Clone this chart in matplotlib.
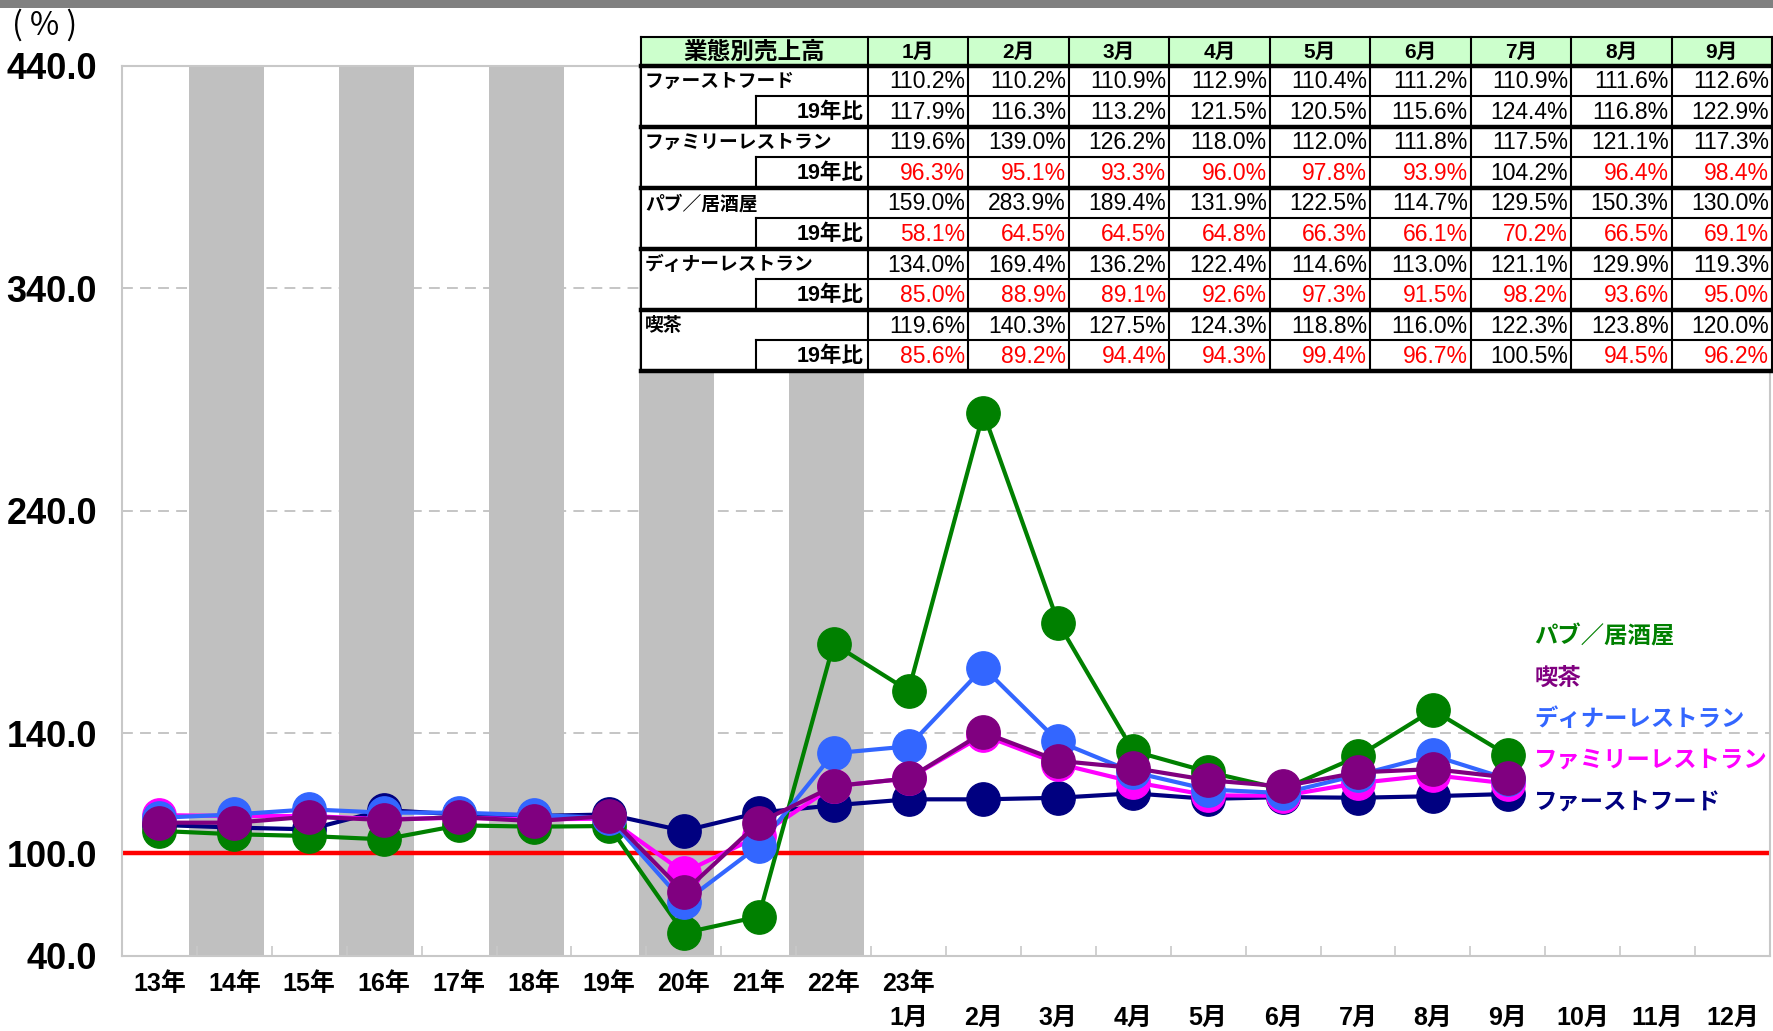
import matplotlib
matplotlib.use("Agg")
import matplotlib.pyplot as plt
from matplotlib import font_manager as fm
from matplotlib.patches import Rectangle
import numpy as np


def pick(names):
    for n in names:
        try:
            fm.findfont(fm.FontProperties(family=n), fallback_to_default=False)
            return n
        except ValueError:
            pass
    return "DejaVu Sans"


NUM = pick(["Liberation Sans Narrow", "Liberation Sans", "DejaVu Sans"])
FAM = [NUM, "Noto Sans CJK JP", "DejaVu Sans"]
plt.rcParams['font.family'] = FAM

# ---- data ----
years = ["13年", "14年", "15年", "16年", "17年", "18年", "19年", "20年", "21年", "22年"]
months = ["1月", "2月", "3月", "4月", "5月", "6月", "7月", "8月", "9月", "10月", "11月", "12月"]
table_months = months[:9]

names = ["ファーストフード", "ファミリーレストラン", "パブ／居酒屋", "ディナーレストラン", "喫茶"]
colors = ["#000080", "#FF00FF", "#008000", "#3366FF", "#800080"]

# yearly values
ff_years = [98.7, 97.5, 96.7, 105.4, 103.4, 102.7, 103.4, 96.0, 104.2, 107.5]
fr_years = [103.1, 102.7, 102.7, 101.2, 101.9, 101.2, 101.5, 77.3, 93.7, 116.1]
pub_years = [96.0, 94.5, 93.7, 92.2, 98.5, 97.9, 98.2, 50.1, 57.5, 180.1]
dr_years = [101.9, 103.4, 105.7, 104.2, 104.2, 103.1, 101.9, 63.9, 89.3, 130.9]
cafe_years = [99.7, 99.7, 102.4, 100.9, 102.2, 100.4, 102.7, 68.4, 99.7, 116.1]

# 2023 monthly values (from the table)
ff_2023 = [110.2, 110.2, 110.9, 112.9, 110.4, 111.2, 110.9, 111.6, 112.6]
fr_2023 = [119.6, 139.0, 126.2, 118.0, 112.0, 111.8, 117.5, 121.1, 117.3]
pub_2023 = [159.0, 283.9, 189.4, 131.9, 122.5, 114.7, 129.5, 150.3, 130.0]
dr_2023 = [134.0, 169.4, 136.2, 122.4, 114.6, 113.0, 121.1, 129.9, 119.3]
cafe_2023 = [119.6, 140.3, 127.5, 124.3, 118.8, 116.0, 122.3, 123.8, 120.0]

ff_vs19 = [117.9, 116.3, 113.2, 121.5, 120.5, 115.6, 124.4, 116.8, 122.9]
fr_vs19 = [96.3, 95.1, 93.3, 96.0, 97.8, 93.9, 104.2, 96.4, 98.4]
pub_vs19 = [58.1, 64.5, 64.5, 64.8, 66.3, 66.1, 70.2, 66.5, 69.1]
dr_vs19 = [85.0, 88.9, 89.1, 92.6, 97.3, 91.5, 98.2, 93.6, 95.0]
cafe_vs19 = [85.6, 89.2, 94.4, 94.3, 99.4, 96.7, 100.5, 94.5, 96.2]

ytick_vals = [40, 86, 140, 240, 340, 440]
ytick_labels = ["40.0", "100.0", "140.0", "240.0", "340.0", "440.0"]
red_line = 86  # where the chart's "100.0" line sits
grid_vals = [140, 240, 340]
shaded = [1, 3, 5, 7, 9]  # 14,16,18,20,22年

year_series = [ff_years, fr_years, pub_years, dr_years, cafe_years]
month_series = [ff_2023, fr_2023, pub_2023, dr_2023, cafe_2023]
vs19_series = [ff_vs19, fr_vs19, pub_vs19, dr_vs19, cafe_vs19]

# ---- figure ----
W, H = 1773, 1031
fig = plt.figure(figsize=(W / 100, H / 100), dpi=100)
fig.patch.set_facecolor("white")

L, R, T, B = 122, 1770, 65.6, 955.5
ax = fig.add_axes([L / W, 1 - B / H, (R - L) / W, (B - T) / H])
n = len(years) + len(months)
x = np.arange(n)
ax.set_xlim(-0.5, n - 0.5)
ax.set_ylim(40, 440)

for v in grid_vals:
    ax.axhline(v, color="#C0C0C0", lw=1.3, ls=(0, (6, 4)), zorder=0)
for i in shaded:
    ax.axvspan(i - 0.6, i + 0.4, color="#C0C0C0", lw=0, zorder=1)
ax.axhline(red_line, color="#FF0000", lw=3.2, zorder=2)

draw_order = [0, 2, 3, 1, 4]
for k in draw_order:
    y = np.array(year_series[k] + month_series[k] + [np.nan] * (len(months) - len(month_series[k])))
    ax.plot(x, y, color=colors[k], lw=3, marker="o", ms=24, zorder=3 + k)

for s in ax.spines.values():
    s.set_color("#C8C8C8")
    s.set_linewidth(1.5)

ax.set_yticks(ytick_vals)
ax.set_yticklabels(ytick_labels, fontsize=26, fontweight="bold")
ax.tick_params(axis="y", length=0, pad=18)
ax.set_xticks(np.arange(n - 1) + 0.5)
ax.set_xticklabels([])
ax.tick_params(axis="x", direction="in", length=7, color="#C8C8C8", width=1.2)

xlab_kw = dict(transform=ax.get_xaxis_transform(), ha="center", va="center",
               fontsize=18, fontweight="bold")
for i, lab in enumerate(years + ["23年"]):
    ax.text(i, -0.0317, lab, **xlab_kw)
for j, lab in enumerate(months):
    ax.text(len(years) + j, -0.0698, lab, **xlab_kw)

# series labels at right
lab_y = [0.3584, 0.3114, 0.2656, 0.2199, 0.1716]
lab_order = [2, 4, 3, 1, 0]
for yy, k in zip(lab_y, lab_order):
    ax.text(0.857, yy, names[k], transform=ax.transAxes, color=colors[k],
            fontsize=16.8, fontweight="bold", va="center", ha="left", zorder=20)

# ---- overlay: top strip, unit label, table ----
ov = fig.add_axes([0, 0, 1, 1], zorder=5)
ov.set_xlim(0, W)
ov.set_ylim(H, 0)
ov.axis("off")
ov.add_patch(Rectangle((0, 0), W, 8, color="#808080", lw=0))
ov.text(12, 25, "( % )", fontsize=23, family=["Noto Sans CJK JP"], va="center", ha="left")

tx0, tsub, tc0, tx1 = 641, 756, 868, 1772
ty0, thd, trow = 37.3, 65.6, 30.53
cw = (tx1 - tc0) / len(table_months)
tbot = thd + trow * 2 * len(names)

ov.add_patch(Rectangle((tx0, ty0), tx1 - tx0, thd - ty0, facecolor="#CCFFCC", lw=0))
ov.add_patch(Rectangle((tx0, thd), tx1 - tx0, tbot - thd, facecolor="white", lw=0))

thin, thick = 1.5, 3.2
ov.plot([tx0, tx1], [ty0, ty0], color="black", lw=thin)
ov.plot([tx0, tx1], [thd, thd], color="black", lw=thick)
ov.plot([tx0, tx0], [ty0, tbot], color="black", lw=thin)
for c in range(len(table_months) + 1):
    xc = tc0 + c * cw
    ov.plot([xc, xc], [ty0, tbot], color="black", lw=thin)

ov.text((tx0 + tc0) / 2, (ty0 + thd) / 2 + 1, "業態別売上高", fontsize=17, fontweight="bold",
        ha="center", va="center")
for c, m in enumerate(table_months):
    ov.text(tc0 + (c + 0.5) * cw, (ty0 + thd) / 2 + 1, m, fontsize=15, fontweight="bold",
            ha="center", va="center")

for g in range(len(names)):
    y0 = thd + 2 * g * trow
    ym = y0 + trow
    y1 = ym + trow
    ov.plot([tsub, tx1], [ym, ym], color="black", lw=thin)
    ov.plot([tsub, tsub], [ym, y1], color="black", lw=thin)
    ov.plot([tx0, tx1], [y1, y1], color="black", lw=thick)
    ov.text(tx0 + 4, y0 + trow / 2 + 1, names[g], fontsize=13.5, fontweight="bold",
            ha="left", va="center")
    ov.text(tc0 - 4, ym + trow / 2 + 1, "19年比", fontsize=15.5, fontweight="bold",
            ha="right", va="center")
    for c in range(len(table_months)):
        xr = tc0 + (c + 1) * cw - 3
        ov.text(xr, y0 + trow / 2 + 1, f"{month_series[g][c]:.1f}%", fontsize=16.5,
                ha="right", va="center", color="black")
        v = vs19_series[g][c]
        ov.text(xr, ym + trow / 2 + 1, f"{v:.1f}%", fontsize=16.5, ha="right",
                va="center", color="#FF0000" if v < 100 else "black")

fig.savefig("out.png", dpi=100)
